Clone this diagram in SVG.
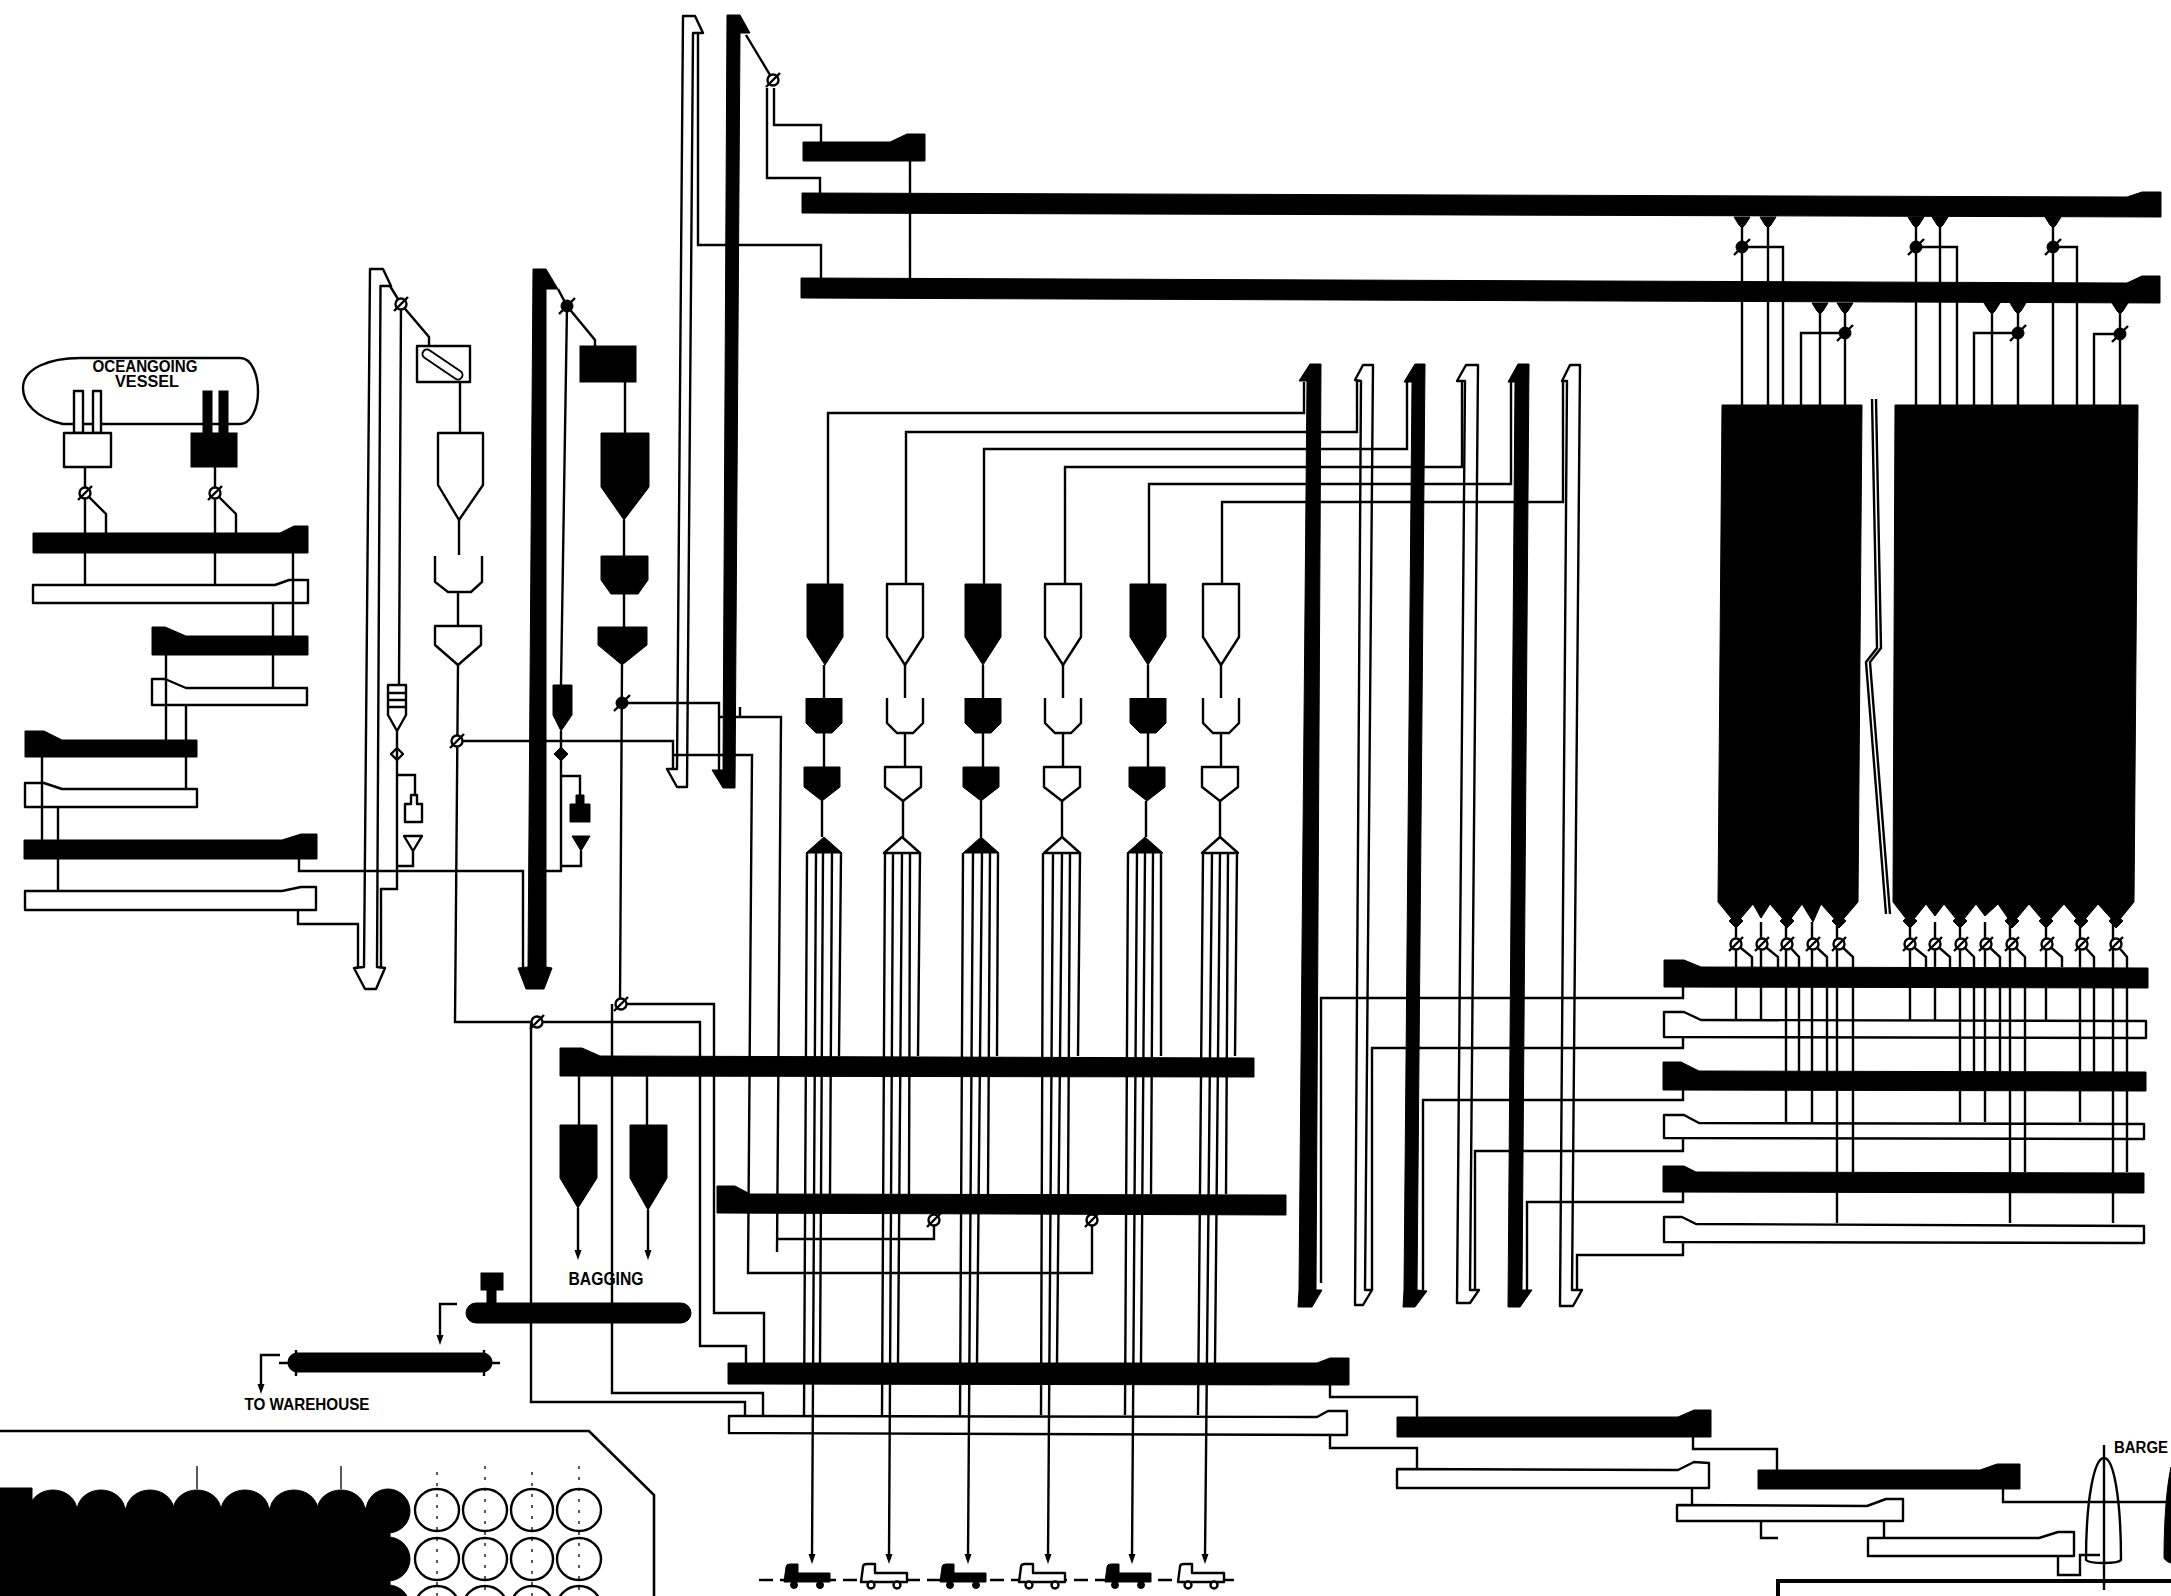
<svg xmlns="http://www.w3.org/2000/svg" width="2171" height="1596" viewBox="0 0 2171 1596">
<style>
.k{fill:#000;stroke:#000;stroke-width:1}
.w{fill:#fff;stroke:#000;stroke-width:2.4;stroke-linejoin:round}
.conn path{fill:none;stroke:#000;stroke-width:2.4}
.conn .a{marker-end:url(#ar)}
.n{fill:none;stroke:#000;stroke-width:2.4}
text{font-family:"Liberation Sans",Arial,sans-serif;font-weight:bold;fill:#000;stroke:none}
</style>
<defs>
<marker id="ar" markerUnits="userSpaceOnUse" markerWidth="8" markerHeight="12" refX="4" refY="11" orient="auto-start-reverse" viewBox="0 0 8 12"><path d="M0,0 8,0 4,12Z" transform="rotate(-90 4 6)" opacity="0"/></marker>
<g id="v"><circle r="5.5" class="w"/><path d="M-7,7 7,-7" class="n"/></g>
<g id="vk"><circle r="6" class="k"/><path d="M-8,8 8,-8" class="n"/></g>
<path id="tip" d="M-3.5,-8H3.5L0,2Z" fill="#000"/>
<path id="fn" d="M-8,0H8L3,8 0,11-3,8Z" class="k"/>
<path id="dm" d="M0,-7 7,0 0,7-7,0Z" class="k"/>
<g id="trk"><path d="M0,18 2,3Q2,0 6,0H14V9H46V18Z"/><circle cx="10" cy="21" r="3.5"/><circle cx="36" cy="21" r="3.5"/></g>
<g id="pk"><path d="M-18,0H18V53L0,81-18,53Z"/></g>
<g id="sg"><path d="M-18,0V25L-8,35H8L18,25V0"/></g>
<g id="ph"><path d="M-18,0H18V20L0,34-18,20Z"/></g>
<g id="tr"><path d="M0,-16 18,0H-18Z"/></g>
</defs>

<g id="vessel"><path class="n" d="M63,424C35,418 23,402 23,388 23,368 50,358 80,358H240C252,358 258,375 258,392 258,410 250,424 240,424Z"/>
<text x="145" y="372" font-size="16" text-anchor="middle" textLength="105" lengthAdjust="spacingAndGlyphs">OCEANGOING</text>
<text x="147" y="387" font-size="16" text-anchor="middle" textLength="64" lengthAdjust="spacingAndGlyphs">VESSEL</text></g>
<g id="unloader-w"><rect class="w" x="74" y="391" width="9" height="42"/><rect class="w" x="93" y="391" width="8" height="42"/><rect class="w" x="64" y="433" width="47" height="34"/></g>
<g id="unloader-k"><rect class="k" x="203" y="391" width="9" height="42"/><rect class="k" x="219" y="391" width="9" height="42"/><rect class="k" x="191" y="433" width="46" height="34"/></g>

<g id="conv-l1k"><polygon class="k" points="33,533 280,533 294,526 308,526 308,553 33,553"/></g>
<g id="conv-l1w"><polygon class="w" points="33,585 275,585 289,580 308,580 308,603 33,603"/></g>
<g id="conv-l2k"><polygon class="k" points="152,627 165,627 186,636 308,636 308,655 152,655"/></g>
<g id="conv-l2w"><polygon class="w" points="152,679 165,679 186,688 307,688 307,705 152,705"/></g>
<g id="conv-l3k"><polygon class="k" points="25,731 44,731 62,740 197,740 197,757 25,757"/></g>
<g id="conv-l3w"><polygon class="w" points="25,783 44,783 62,789 197,789 197,807 25,807"/></g>
<g id="conv-l4k"><polygon class="k" points="24,840 282,840 301,834 317,834 317,859 24,859"/></g>
<g id="conv-l4w"><polygon class="w" points="25,891 282,891 301,887 316,887 316,910 25,910"/></g>

<g id="elev-l-w"><polygon class="w" points="370,269 383,269 391,286 380.5,286 377,967 385,968 376,989 365,989 354,968 364,967"/></g>
<g id="elev-l-k"><polygon class="k" points="533,269 546,269 558,289 546,289 546,967 552,968 544,989 526,989 518,968 528,967"/></g>
<g id="elev-c-w"><polygon class="w" points="683,16 695,16 703,33 693,33 687,787 677,787 667,769 677,769"/></g>
<g id="elev-c-k"><polygon class="k" points="727,15 740,15 750,33 740,33 735,788 723,788 712,770 723,770"/></g>

<g id="belt-w"><rect class="w" x="417" y="346" width="53" height="36"/><path d="M427,354 458,375" stroke="#000" stroke-width="11" stroke-linecap="round"/><path d="M427,354 458,375" stroke="#fff" stroke-width="7" stroke-linecap="round"/></g>
<g id="belt-k"><rect class="k" x="580" y="346" width="56" height="36"/></g>
<g id="hop-w"><path class="w" d="M438,433H483V485L459,520 438,485Z"/></g>
<g id="hop-k"><path class="k" d="M601,433H649V487L624,520 601,487Z"/></g>
<g id="surge-w"><path class="n" d="M435,556V582L448,592H471L482,582V556"/></g>
<g id="surge-k"><path class="k" d="M601,556H648V580L638,594H611L601,580Z"/></g>
<g id="hop2-w"><path class="w" d="M435,626H481V645L458,665 435,645Z"/></g>
<g id="hop2-k"><path class="k" d="M598,627H647V645L622,665 598,645Z"/></g>
<g id="stack-w"><path class="w" d="M388,685H406V715L397,731 388,715Z"/><path class="n" d="M388,693H406M388,700H406M388,707H406"/></g>
<g id="stack-k"><path class="k" d="M553,685H572V715L561,731 553,715Z"/></g>
<g id="dia-w"><path class="w" d="M397,748 403,754 397,760 391,754Z"/></g>
<g id="dia-k"><use href="#dm" x="561" y="754"/></g>
<g id="bag-w"><path class="w" d="M411,795H417V804H422V822H405V804H411Z"/></g>
<g id="bag-k"><path class="k" d="M576,795H584V804H590V822H570V804H576Z"/></g>
<g id="tri-w"><path class="w" d="M404,836H422L413,851Z"/></g>
<g id="tri-k"><path class="k" d="M572,836H590L581,851Z"/></g>

<g id="conv-a"><polygon class="k" points="803,142 890,142 907,134 925,134 925,161 803,161"/></g>
<g id="conv-b"><polygon class="k" points="802,193 2127,197 2142,192 2161,192 2161,217 802,213"/></g>
<g id="conv-c"><polygon class="k" points="801,278 2127,283 2142,276 2160,276 2160,303 801,298"/></g>

<g id="elev1"><polygon class="k" points="1310,364 1321,364 1316,1290 1322,1290 1312,1307 1298,1307 1299,1290 1307,381 1299,381"/></g>
<g id="elev2"><polygon class="w" points="1363,365 1373,365 1365,1290 1372,1290 1363,1305 1355,1305 1361,381 1355,380"/></g>
<g id="elev3"><polygon class="k" points="1415,364 1425,364 1417,1290 1427,1291 1415,1307 1403,1307 1404,1290 1412,382 1404,382"/></g>
<g id="elev4"><polygon class="w" points="1466,365 1478,365 1470,1290 1479,1290 1470,1303 1457,1303 1465,381 1457,381"/></g>
<g id="elev5"><polygon class="k" points="1518,364 1529,364 1522,1290 1532,1290 1520,1307 1508,1307 1515,382 1508,382"/></g>
<g id="elev6"><polygon class="w" points="1570,365 1580,365 1572,1290 1582,1290 1573,1306 1560,1306 1567,381 1562,381"/></g>

<g id="col1"><use href="#pk" x="825" y="584" class="k"/><use href="#sg" x="824" y="698" class="k"/><use href="#ph" x="822" y="767" class="k"/><use href="#tr" x="824" y="853" class="k"/></g>
<g id="col2"><use href="#pk" x="905" y="584" class="w"/><use href="#sg" x="905" y="698" class="n"/><use href="#ph" x="903" y="767" class="w"/><use href="#tr" x="902" y="853" class="w"/></g>
<g id="col3"><use href="#pk" x="983" y="584" class="k"/><use href="#sg" x="983" y="698" class="k"/><use href="#ph" x="981" y="767" class="k"/><use href="#tr" x="981" y="853" class="k"/></g>
<g id="col4"><use href="#pk" x="1063" y="584" class="w"/><use href="#sg" x="1063" y="698" class="n"/><use href="#ph" x="1062" y="767" class="w"/><use href="#tr" x="1062" y="853" class="w"/></g>
<g id="col5"><use href="#pk" x="1148" y="584" class="k"/><use href="#sg" x="1148" y="698" class="k"/><use href="#ph" x="1147" y="767" class="k"/><use href="#tr" x="1145" y="853" class="k"/></g>
<g id="col6"><use href="#pk" x="1221" y="584" class="w"/><use href="#sg" x="1221" y="698" class="n"/><use href="#ph" x="1220" y="767" class="w"/><use href="#tr" x="1220" y="853" class="w"/></g>

<g id="conv-d"><polygon class="k" points="560,1048 582,1048 600,1056 1254,1058 1254,1077 560,1076"/></g>
<g id="conv-e"><polygon class="k" points="717,1186 735,1186 750,1194 1286,1195 1286,1215 717,1213"/></g>
<g id="conv-f"><polygon class="k" points="728,1363 1317,1363 1330,1358 1349,1358 1349,1385 728,1384"/></g>
<g id="conv-g"><polygon class="w" points="729,1416 1317,1417 1328,1411 1347,1411 1347,1435 729,1433"/></g>
<g id="conv-h"><polygon class="k" points="1397,1417 1678,1417 1694,1410 1711,1410 1711,1437 1397,1437"/></g>
<g id="conv-i"><polygon class="w" points="1397,1469 1678,1470 1694,1462 1709,1463 1709,1488 1397,1488"/></g>
<g id="conv-j"><polygon class="k" points="1758,1470 1980,1470 1997,1464 2020,1464 2020,1489 1758,1489"/></g>
<g id="conv-k"><polygon class="w" points="1677,1505 1867,1506 1886,1499 1903,1499 1903,1521 1677,1521"/></g>
<g id="conv-l"><polygon class="w" points="1868,1538 2039,1538 2058,1532 2074,1532 2074,1556 1868,1556"/></g>

<g id="silo1"><polygon class="k" points="1722,405 1862,405 1858,902 1839,924 1821,904 1813,922 1802,904 1787,924 1770,904 1761,918 1753,904 1736,924 1718,902"/></g>
<g id="silo2"><polygon class="k" points="1895,405 2138,405 2134,902 2116,924 2098,904 2081,924 2064,904 2046,924 2029,904 2012,924 1998,904 1985,916 1976,904 1960,924 1944,904 1935,916 1926,904 1910,924 1893,902"/></g>
<g id="silo-break"><path class="n" d="M1872,399 1877,648 1866,662 1886,914M1876,399 1881,648 1870,662 1890,914"/></g>

<g id="conv-r1k"><polygon class="k" points="1664,960 1684,960 1701,967 2148,968 2148,988 1664,987"/></g>
<g id="conv-r1w"><polygon class="w" points="1664,1012 1684,1012 1701,1020 2146,1021 2146,1038 1664,1037"/></g>
<g id="conv-r2k"><polygon class="k" points="1663,1062 1681,1062 1699,1071 2146,1072 2146,1091 1663,1090"/></g>
<g id="conv-r2w"><polygon class="w" points="1664,1115 1684,1115 1699,1123 2144,1124 2144,1139 1664,1138"/></g>
<g id="conv-r3k"><polygon class="k" points="1663,1166 1684,1166 1696,1172 2144,1173 2144,1193 1663,1192"/></g>
<g id="conv-r3w"><polygon class="w" points="1664,1217 1682,1217 1696,1224 2144,1226 2144,1243 1664,1242"/></g>

<g id="bagsilo1"><path class="k" d="M560,1125H597V1178L578,1208 560,1178Z"/></g>
<g id="bagsilo2"><path class="k" d="M630,1125H667V1178L648,1210 630,1178Z"/></g>
<g id="bagging-label"><text x="606" y="1285" font-size="18" text-anchor="middle" textLength="75" lengthAdjust="spacingAndGlyphs">BAGGING</text></g>
<g id="bagger"><rect class="k" x="481" y="1273" width="22" height="17"/><rect class="k" x="487" y="1288" width="9" height="16"/><rect class="k" x="466" y="1303" width="225" height="20" rx="10"/></g>
<g id="belt-house"><rect class="k" x="288" y="1353" width="204" height="19" rx="9"/><path class="n" d="M296,1350V1376M484,1350V1376M279,1363H288M492,1363H500"/></g>
<g id="warehouse-label"><text x="307" y="1410" font-size="17" text-anchor="middle" textLength="125" lengthAdjust="spacingAndGlyphs">TO WAREHOUSE</text></g>

<g id="warehouse"><path d="M0,1431H589L654,1495V1596" fill="none" stroke="#000" stroke-width="2.6"/>
<path class="k" d="M0,1488H32V1508H390V1596H0Z"/>
<g class="k"><ellipse cx="53" cy="1511" rx="24" ry="21"/><ellipse cx="101" cy="1511" rx="24" ry="21"/><ellipse cx="150" cy="1511" rx="24" ry="21"/><ellipse cx="197" cy="1511" rx="24" ry="21"/><ellipse cx="245" cy="1511" rx="24" ry="21"/><ellipse cx="294" cy="1511" rx="24" ry="21"/><ellipse cx="341" cy="1511" rx="24" ry="21"/><ellipse cx="388" cy="1511" rx="22" ry="22"/><ellipse cx="388" cy="1559" rx="22" ry="22"/><ellipse cx="388" cy="1607" rx="22" ry="22"/></g>
<g class="w"><ellipse cx="437" cy="1510" rx="22" ry="21"/><ellipse cx="485" cy="1510" rx="22" ry="21"/><ellipse cx="532" cy="1510" rx="21" ry="21"/><ellipse cx="579" cy="1510" rx="22" ry="21"/><ellipse cx="437" cy="1559" rx="22" ry="21"/><ellipse cx="485" cy="1559" rx="22" ry="21"/><ellipse cx="532" cy="1559" rx="21" ry="21"/><ellipse cx="579" cy="1559" rx="22" ry="21"/><ellipse cx="437" cy="1607" rx="22" ry="21"/><ellipse cx="485" cy="1607" rx="22" ry="21"/><ellipse cx="532" cy="1607" rx="21" ry="21"/><ellipse cx="579" cy="1607" rx="22" ry="21"/></g>
<path fill="none" stroke="#000" stroke-width="1.3" stroke-dasharray="3 8" d="M437,1472V1596M485,1466V1596M532,1472V1596M579,1466V1596"/><path fill="none" stroke="#000" stroke-width="1.3" d="M197,1466V1489M341,1466V1489"/></g>

<g id="barge"><path class="w" d="M2104,1458C2094,1458 2086,1500 2086,1560 2090,1564 2118,1564 2121,1560 2121,1500 2114,1458 2104,1458Z"/><text x="2141" y="1453" font-size="16" text-anchor="middle" textLength="54" lengthAdjust="spacingAndGlyphs">BARGE</text></g>
<g id="barge2"><path class="k" d="M2171,1467C2166,1490 2164,1525 2164,1558 2166,1562 2171,1563 2171,1563Z"/></g>
<g id="bottom-box"><path d="M1778,1596V1581H2171" fill="none" stroke="#000" stroke-width="4"/></g>

<g id="road"><path class="n" stroke-dasharray="14 7" d="M759,1580H1234"/></g>
<g id="truck1"><use href="#trk" x="784" y="1564" class="k"/></g>
<g id="truck2"><use href="#trk" x="861" y="1564" class="w"/></g>
<g id="truck3"><use href="#trk" x="940" y="1564" class="k"/></g>
<g id="truck4"><use href="#trk" x="1019" y="1564" class="w"/></g>
<g id="truck5"><use href="#trk" x="1105" y="1564" class="k"/></g>
<g id="truck6"><use href="#trk" x="1178" y="1564" class="w"/></g>

<g id="connectors" class="conn">
<path d="M85,467V585M215,467V585M85,493L106,514V533M215,493L236,514V533M85,553V585M293,553V636M273,603V688M166,655V740M186,705V740M186,757V788M42,757V840M58,807V891"/>
<path d="M299,859V871H523V968M298,910V924H358V967"/>
<path d="M390,286 401,304 429,337V346M401,304 399,685M397,731V889H381V967M396,775H415V795M413,851V866H396"/>
<path d="M460,382V433M459,520V555M458,592V626M458,665 455,1022H537M537,1022H700V1346H746V1363M531,1022V1402H745V1415"/>
<path d="M457,741H673V769M673,755H752L748,1273H1092V1218"/>
<path d="M558,289 567,306 595,340V346M567,306 561,685M561,731V871H546M562,776H580V795M581,851V866H561"/>
<path d="M625,382V433M624,520V556M624,594V627M622,665 620,1004H714V1313H764V1363M612,1004V1393H763V1415"/>
<path d="M622,703H719V770M720,717H781L777,1252M777,1239H934V1218M740,707V717"/>
<path d="M746,35 773,80M767,88V178H820V193M774,88V125H821V142M910,161V278M698,33V245H821V278"/>
<path d="M1304,382V413H828V584M1357,380V432H906V584M1407,382V449H984V584M1462,381V467H1065V584M1511,382V484H1149V584M1563,381V502H1222V584"/>
<path d="M824,665V698M824,733V767M822,801V837M905,665V698M905,733V767M903,801V837M983,665V698M983,733V767M981,801V837M1063,665V698M1063,733V767M1062,801V837M1148,665V698M1148,733V767M1146,801V837M1221,665V698M1221,733V767M1220,801V837"/>
<path d="M807,853 804,1415M816,853 812,1557M823,853 820,1363M832,853 830,1194M841,853 839,1056"/>
<path d="M885,853 882,1415M893,853 889,1557M902,853 898,1363M910,853 909,1194M920,853 918,1056"/>
<path d="M963,853 960,1415M973,853 968,1557M982,853 977,1363M990,853 988,1194M998,853 997,1056"/>
<path d="M1043,853 1041,1415M1053,853 1048,1557M1062,853 1057,1363M1070,853 1068,1194M1080,853 1078,1056"/>
<path d="M1128,853 1125,1415M1137,853 1132,1557M1145,853 1141,1363M1153,853 1151,1194M1161,853V1056"/>
<path d="M1203,853 1198,1415M1212,853 1205,1557M1220,853 1215,1363M1228,853 1226,1194M1237,853 1235,1056"/>
<path d="M579,1076V1125M647,1076V1125M578,1208V1252M648,1210V1252"/>
<path d="M457,1304H440V1338M280,1355H261V1386"/>
<path d="M1742,217V405M1768,217V405M1742,247H1783V405M1916,217V405M1940,217V405M1916,247H1957V405M2053,217V405M2053,247H2077V405"/>
<path d="M1820,303V405M1845,303V405M1845,333H1801V405M1992,303V405M2018,303V405M2018,333H1974V405M2120,303V405M2120,334H2094V405"/>
<path d="M1736,922V1020M1761,922V1020M1786,922V1122M1812,922V1122M1837,922V1223M1910,922V1020M1935,922V1020M1960,922V1122M1985,922V1122M2010,922V1223M2046,922V1020M2080,922V1122M2113,922V1223"/>
<path d="M1736,944 1752,957V967M1762,944 1778,957V967M1787,944 1799,957V1072M1813,944 1827,957V1072M1839,944 1853,957V1172M1910,944 1926,957V967M1935,944 1950,957V967M1961,944 1974,957V1072M1986,944 2000,957V1072M2012,944 2025,957V1172M2047,944 2062,957V967M2082,944 2094,957V1072M2116,944 2127,957V1172"/>
<path d="M1683,987V998H1321V1283M1683,1037V1048H1372V1290M1683,1090V1100H1423V1290M1683,1138V1151H1475V1290M1683,1192V1202H1527V1290M1683,1242V1255H1577V1290"/>
<path d="M1330,1385V1397H1417V1417M1330,1435V1448H1417V1469M1693,1437V1449H1777V1470M1692,1488V1505M2003,1489V1502H2171M1884,1521V1538M1761,1521V1538H1778M2058,1556V1575H2080V1555H2100M2104,1445V1590"/>
</g>

<g id="arrowheads">
<use href="#tip" x="812" y="1562"/><use href="#tip" x="889" y="1562"/><use href="#tip" x="968" y="1562"/><use href="#tip" x="1048" y="1562"/><use href="#tip" x="1132" y="1562"/><use href="#tip" x="1205" y="1562"/>
<use href="#tip" x="578" y="1258"/><use href="#tip" x="648" y="1258"/><use href="#tip" x="440" y="1343"/><use href="#tip" x="261" y="1392"/>
</g>

<g id="valves">
<use href="#v" x="85" y="493"/><use href="#v" x="215" y="493"/><use href="#v" x="401" y="304"/><use href="#vk" x="567" y="306"/><use href="#v" x="773" y="80"/>
<use href="#v" x="457" y="741"/><use href="#vk" x="622" y="703"/><use href="#v" x="537" y="1022"/><use href="#v" x="621" y="1004"/>
<use href="#vk" x="1742" y="247"/><use href="#vk" x="1916" y="247"/><use href="#vk" x="2053" y="247"/><use href="#vk" x="1845" y="333"/><use href="#vk" x="2018" y="333"/><use href="#vk" x="2120" y="334"/>
<use href="#v" x="1736" y="944"/><use href="#v" x="1762" y="944"/><use href="#v" x="1787" y="944"/><use href="#v" x="1813" y="944"/><use href="#v" x="1839" y="944"/><use href="#v" x="1910" y="944"/><use href="#v" x="1935" y="944"/><use href="#v" x="1961" y="944"/><use href="#v" x="1986" y="944"/><use href="#v" x="2012" y="944"/><use href="#v" x="2047" y="944"/><use href="#v" x="2082" y="944"/><use href="#v" x="2116" y="944"/>
<use href="#fn" x="1742" y="217"/><use href="#fn" x="1768" y="217"/><use href="#fn" x="1916" y="217"/><use href="#fn" x="1940" y="217"/><use href="#fn" x="2053" y="217"/><use href="#fn" x="1820" y="303"/><use href="#fn" x="1845" y="303"/><use href="#fn" x="1992" y="303"/><use href="#fn" x="2018" y="303"/><use href="#fn" x="2120" y="303"/>
<use href="#dm" x="1736" y="921"/><use href="#dm" x="1787" y="921"/><use href="#dm" x="1839" y="921"/><use href="#dm" x="1910" y="921"/><use href="#dm" x="1960" y="921"/><use href="#dm" x="2012" y="921"/><use href="#dm" x="2046" y="921"/><use href="#dm" x="2081" y="921"/><use href="#dm" x="2116" y="921"/>
<use href="#v" x="934" y="1220"/><use href="#v" x="1092" y="1220"/>
</g>
</svg>
